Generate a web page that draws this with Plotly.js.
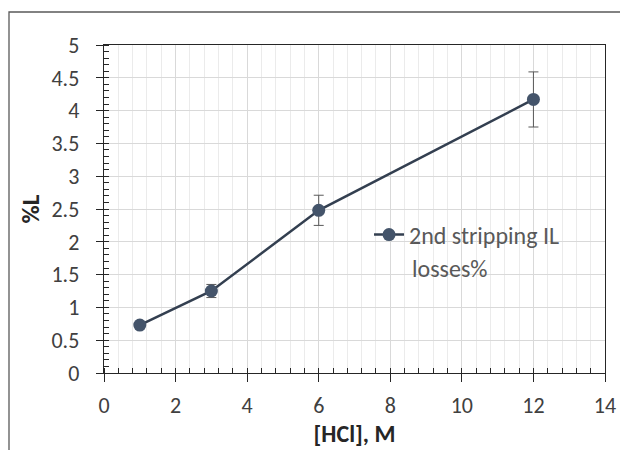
<!DOCTYPE html>
<html>
<head>
<meta charset="utf-8">
<script src="https://cdn.plot.ly/plotly-3.0.1.min.js"></script>
<style>
html,body{margin:0;padding:0;overflow:hidden;background:#fff;}
#chart{width:620px;height:450px;}
</style>
</head>
<body>
<div id="chart"></div>
<script>
const hclM = [1, 3, 6, 12];
const lossPct = [0.73, 1.25, 2.48, 4.17];
const lossErr = [0.03, 0.1, 0.23, 0.42];
const seriesName = "2nd stripping IL";
const seriesName2 = "losses%";
const xTitle = "[HCl], M";
const yTitle = "%L";

const FONT = "Calibri, Carlito, 'Open Sans', sans-serif";

const trace = {
  x: hclM, y: lossPct, name: seriesName, type: 'scatter', mode: 'lines+markers',
  line: {color: '#333F50', width: 2.5},
  marker: {color: '#44546A', size: 13},
  error_y: {type: 'data', array: lossErr, visible: true, color: '#595959', thickness: 1, width: 5}
};

const layout = {
  width: 620, height: 450,
  margin: {l: 104, r: 15, t: 45, b: 77},
  paper_bgcolor: '#fff', plot_bgcolor: '#fff',
  font: {family: FONT, color: '#404040', size: 22},
  showlegend: true,
  legend: {x: 0.529, y: (373-235)/328, xanchor: 'left', yanchor: 'middle', bgcolor: 'rgba(0,0,0,0)',
    font: {size: 24, color: '#595959'}},
  xaxis: {
    range: [0, 14], dtick: 2, tick0: 0,
    showline: true, linecolor: '#262626', linewidth: 1.3, mirror: true,
    ticks: 'outside', ticklen: 8, tickcolor: '#262626', ticklabelstandoff: 4,
    showgrid: true, gridcolor: '#d9d9d9', gridwidth: 1, zeroline: false,
    minor: {dtick: 0.4, ticks: 'inside', ticklen: 5, tickcolor: '#262626', showgrid: true, gridcolor: '#ebebeb'},
    title: {text: '<b>' + xTitle + '</b>', font: {size: 24, color: '#262626'}, standoff: 4}
  },
  yaxis: {
    range: [0, 5], dtick: 0.5, tick0: 0,
    showline: true, linecolor: '#262626', linewidth: 1.3, mirror: true,
    ticks: 'outside', ticklen: 7, tickcolor: '#262626', ticklabelstandoff: 12,
    showgrid: true, gridcolor: '#d9d9d9', gridwidth: 1, zeroline: false,
    minor: {dtick: 0.1, ticks: 'inside', ticklen: 5, tickcolor: '#262626', showgrid: false},
    title: {text: '<b>' + yTitle + '</b>', font: {size: 25, color: '#262626'}, standoff: 4}
  },
  annotations: [{
    text: seriesName2, xref: 'paper', yref: 'paper', x: (410-104)/501, y: (373-268)/328,
    xanchor: 'left', yanchor: 'middle', showarrow: false, font: {size: 24, color: '#595959'}
  }],
  shapes: [{
    type: 'rect', xref: 'paper', yref: 'paper',
    x0: (9-104)/501, x1: 1.5, y0: -1, y1: (373-12)/328,
    line: {color: '#595959', width: 1.3}, fillcolor: 'rgba(0,0,0,0)', layer: 'below'
  }]
};

Plotly.newPlot('chart', [trace], layout, {displayModeBar: false, staticPlot: true});
</script>
</body>
</html>
